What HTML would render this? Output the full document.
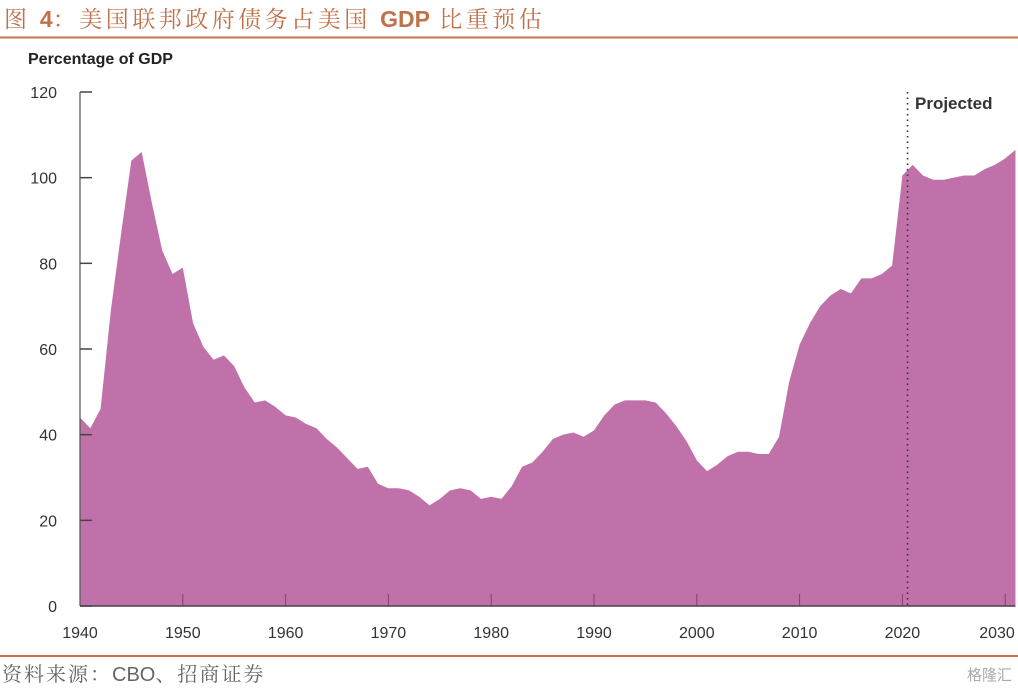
<!DOCTYPE html>
<html><head><meta charset="utf-8"><style>
body{margin:0;background:#fff;width:1018px;height:688px;overflow:hidden;font-family:"Liberation Sans","Noto Sans CJK SC",sans-serif;}
svg{display:block}
</style></head><body>
<svg width="1018" height="688">
<text x="4" y="27" font-size="23" letter-spacing="3.5" fill="#c0714a" font-family="'Noto Serif CJK SC','Liberation Serif',serif">图 <tspan font-family="'Liberation Sans',sans-serif" font-weight="bold" letter-spacing="0">4</tspan>：美国联邦政府债务占美国 <tspan font-family="'Liberation Sans',sans-serif" font-weight="bold" letter-spacing="0">GDP</tspan> 比重预估</text>
<line x1="0" y1="37.5" x2="1018" y2="37.5" stroke="#c8714a" stroke-width="2"/>
<text x="28" y="64" font-size="16" font-weight="bold" fill="#222">Percentage of GDP</text>
<g id="area"></g>
<g id="axes"></g>
<line x1="0" y1="656" x2="1018" y2="656" stroke="#c8714a" stroke-width="2"/>
<text x="2" y="681" font-size="20" letter-spacing="2" fill="#666" font-family="'Noto Serif CJK SC','Liberation Serif',serif">资料来源：<tspan font-family="'Liberation Sans',sans-serif" letter-spacing="0">CBO</tspan>、招商证券</text>
<text x="1012" y="680" font-size="15" fill="#aaa" text-anchor="end">格隆汇</text>
</svg>
<script>
const years=[1940,1941,1942,1943,1944,1945,1946,1947,1948,1949,1950,1951,1952,1953,1954,1955,1956,1957,1958,1959,1960,1961,1962,1963,1964,1965,1966,1967,1968,1969,1970,1971,1972,1973,1974,1975,1976,1977,1978,1979,1980,1981,1982,1983,1984,1985,1986,1987,1988,1989,1990,1991,1992,1993,1994,1995,1996,1997,1998,1999,2000,2001,2002,2003,2004,2005,2006,2007,2008,2009,2010,2011,2012,2013,2014,2015,2016,2017,2018,2019,2020,2021,2022,2023,2024,2025,2026,2027,2028,2029,2030,2031];
const debt=[44,41.5,46,69,87,104,106,94,83,77.5,79,66,60.5,57.5,58.5,56,51,47.5,48,46.5,44.5,44,42.5,41.5,39,37,34.5,32,32.5,28.5,27.5,27.5,27,25.5,23.5,25,27,27.5,27,25,25.5,25,28,32.5,33.5,36,39,40,40.5,39.5,41,44.5,47,48,48,48,47.5,45,42,38.5,34,31.5,33,35,36,36,35.5,35.5,39.5,52.5,61,66,70,72.5,74,73,76.5,76.5,77.5,79.5,100.5,103,100.5,99.5,99.5,100,100.5,100.5,102,103,104.5,106.5];
const yTicks=[0,20,40,60,80,100,120];
const xTicks=[1940,1950,1960,1970,1980,1990,2000,2010,2020,2030];
const projYear=2020.5;
const NS='http://www.w3.org/2000/svg';
const X=y=>80+(y-1940)*10.28;
const Y=v=>606-v*(514/120);
function mk(t,a,p){const e=document.createElementNS(NS,t);for(const k in a)e.setAttribute(k,a[k]);p.appendChild(e);return e;}
const area=document.getElementById('area'),axes=document.getElementById('axes');
let d='M'+X(years[0])+','+Y(0);
years.forEach((yr,i)=>{d+=' L'+X(yr)+','+Y(debt[i]);});
d+=' L'+X(years[years.length-1])+','+Y(0)+' Z';
const p=mk('path',{d:d,fill:'#c171aa'},area);


xTicks.forEach(t=>{
  const l=mk('line',{x1:X(t),x2:X(t),y1:Y(0)-12,y2:Y(0),stroke:'#8a3a70','stroke-width':1},axes);
  
  
  const tx=mk('text',{x:Math.min(X(t),997),y:638,'font-size':16,fill:'#333','text-anchor':'middle'},axes);
  tx.textContent=t;
  
  
});
const bl=mk('line',{x1:80,x2:X(years[years.length-1]),y1:Y(0),y2:Y(0),stroke:'#444','stroke-width':1.5},axes);


const al=mk('line',{x1:80,x2:80,y1:Y(120),y2:Y(0),stroke:'#555','stroke-width':1.2},axes);


yTicks.forEach(t=>{
  const l=mk('line',{x1:80,x2:92,y1:Y(t),y2:Y(t),stroke:'#444','stroke-width':1.5},axes);
  
  
  const tx=mk('text',{x:57,y:Y(t)+6,'font-size':16,fill:'#333','text-anchor':'end'},axes);
  tx.textContent=t;
  
  
});
const pl=mk('line',{x1:X(projYear),x2:X(projYear),y1:92,y2:Y(0),stroke:'#333','stroke-width':1.6,'stroke-dasharray':'1.5 4'},axes);


const pt=mk('text',{x:915,y:109,'font-size':17,'font-weight':'bold',fill:'#333'},axes);
pt.textContent='Projected';


</script>
</body></html>
